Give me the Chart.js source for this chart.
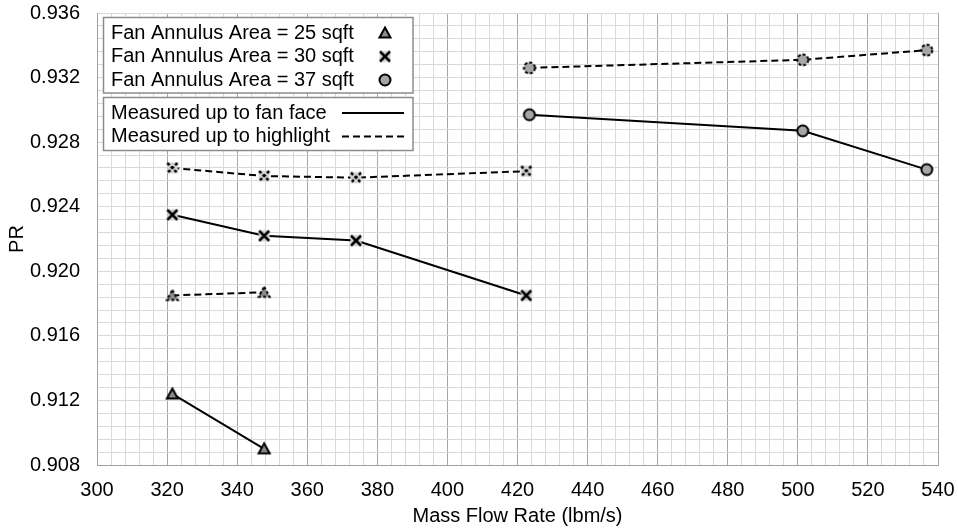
<!DOCTYPE html>
<html>
<head>
<meta charset="utf-8">
<title>PR vs Mass Flow Rate</title>
<script src="https://cdn.jsdelivr.net/npm/chart.js@4.4.0/dist/chart.umd.min.js"></script>
<style>
  html, body { margin: 0; padding: 0; background: #fff; }
  #wrap { width: 958px; height: 531px; }
</style>
</head>
<body>
<div id="wrap"><canvas id="prChart"></canvas></div>
<script>
// mass flow rate (lbm/s) for each fan annulus area
const flow25 = [321.5, 347.7];
const flow30 = [321.5, 347.7, 373.9, 422.5];
const flow37 = [423.4, 501.4, 536.8];

// PR measured up to the fan face
const face25 = [0.9124, 0.9090];
const face30 = [0.9235, 0.9222, 0.9219, 0.9185];
const face37 = [0.9297, 0.9287, 0.9263];

// PR measured up to the highlight
const high25 = [0.9185, 0.9187];
const high30 = [0.9264, 0.9259, 0.9258, 0.9262];
const high37 = [0.9326, 0.9331, 0.9337];

const areaLabels = ['Fan Annulus Area = 25 sqft', 'Fan Annulus Area = 30 sqft', 'Fan Annulus Area = 37 sqft'];
const lineLabels = ['Measured up to fan face', 'Measured up to highlight'];

// axis ranges / grid spacing
const xMin = 300, xMax = 540, xMinor = 4, xMajor = 20;
const yMin = 0.908, yMax = 0.936, yMinor = 0.0008, yMajor = 0.004;

const FONT = '"Liberation Sans", Arial, sans-serif';
Chart.defaults.font.family = FONT;
Chart.defaults.font.size = 20;
Chart.defaults.color = '#000';

// little canvases used as point styles (and in the legend)
function makeMarker(shape, dashed) {
  const c = document.createElement('canvas');
  c.width = 18; c.height = 18;
  const g = c.getContext('2d');
  g.translate(9, 9);
  g.strokeStyle = '#000';
  g.lineWidth = 2;
  if (dashed) g.setLineDash([3, 2]);
  if (shape === 'circle') {
    g.fillStyle = '#a6a6a6';
    g.beginPath(); g.arc(0, 0, 5.5, 0, Math.PI * 2); g.fill(); g.stroke();
  } else if (shape === 'triangle') {
    g.fillStyle = '#8c8c8c';
    g.beginPath(); g.moveTo(0, -5.5); g.lineTo(5.5, 4.5); g.lineTo(-5.5, 4.5); g.closePath();
    g.fill(); g.stroke();
  } else {
    g.fillStyle = '#d4d4d4';
    g.fillRect(-5.5, -5.5, 11, 11);
    g.lineWidth = 2.5;
    g.beginPath(); g.moveTo(-5, -5); g.lineTo(5, 5); g.moveTo(5, -5); g.lineTo(-5, 5); g.stroke();
  }
  return c;
}

const shapes = ['triangle', 'cross', 'circle'];
const solidMarkers = shapes.map(s => makeMarker(s, false));
const dashedMarkers = shapes.map(s => makeMarker(s, true));

function series(label, xs, ys, idx, dashed) {
  return {
    label: label,
    data: xs.map((x, i) => ({ x: x, y: ys[i] })),
    showLine: true,
    borderColor: '#000',
    backgroundColor: '#000',
    borderWidth: 2,
    borderDash: dashed ? [7, 4] : [],
    pointStyle: dashed ? dashedMarkers[idx] : solidMarkers[idx],
    pointRadius: 6,
    pointHoverRadius: 6,
    tension: 0,
    fill: false
  };
}

function stepTicks(min, max, step) {
  const out = [];
  const n = Math.round((max - min) / step);
  for (let i = 0; i <= n; i++) out.push({ value: +(min + i * step).toFixed(6) });
  return out;
}

function isMultiple(v, step) {
  const k = v / step;
  return Math.abs(k - Math.round(k)) < 1e-6;
}

// two framed legend boxes inside the plot area
const legendBoxes = {
  id: 'legendBoxes',
  afterDraw(chart) {
    const ctx = chart.ctx;
    ctx.save();
    ctx.font = '20px ' + FONT;
    ctx.textBaseline = 'middle';
    ctx.lineWidth = 1.5;

    function box(x, y, w, h) {
      ctx.fillStyle = '#fff';
      ctx.fillRect(x, y, w, h);
      ctx.strokeStyle = '#8c8c8c';
      ctx.setLineDash([]);
      ctx.strokeRect(x, y, w, h);
    }

    box(103.5, 17.5, 309.5, 75.5);
    areaLabels.forEach((t, i) => {
      const y = 33 + i * 23.5;
      ctx.fillStyle = '#000';
      ctx.fillText(t, 111, y);
      ctx.drawImage(solidMarkers[i], 385 - 9, y - 9);
    });

    box(103.5, 97.5, 309.5, 53);
    lineLabels.forEach((t, i) => {
      const y = 113 + i * 23.5;
      ctx.fillStyle = '#000';
      ctx.fillText(t, 111, y);
      ctx.strokeStyle = '#000';
      ctx.lineWidth = 2;
      ctx.setLineDash(i === 1 ? [7, 4] : []);
      ctx.beginPath(); ctx.moveTo(342, y); ctx.lineTo(404, y); ctx.stroke();
      ctx.lineWidth = 1.5;
    });
    ctx.restore();
  }
};

new Chart(document.getElementById('prChart'), {
  type: 'scatter',
  data: {
    datasets: [
      series(areaLabels[0] + ' (fan face)', flow25, face25, 0, false),
      series(areaLabels[0] + ' (highlight)', flow25, high25, 0, true),
      series(areaLabels[1] + ' (fan face)', flow30, face30, 1, false),
      series(areaLabels[1] + ' (highlight)', flow30, high30, 1, true),
      series(areaLabels[2] + ' (fan face)', flow37, face37, 2, false),
      series(areaLabels[2] + ' (highlight)', flow37, high37, 2, true)
    ]
  },
  options: {
    responsive: true,
    maintainAspectRatio: false,
    animation: false,
    layout: { padding: { left: 0, right: 20, top: 13, bottom: 0 } },
    plugins: {
      legend: { display: false },
      tooltip: { enabled: false }
    },
    scales: {
      x: {
        type: 'linear',
        min: xMin,
        max: xMax,
        afterBuildTicks: s => { s.ticks = stepTicks(xMin, xMax, xMinor); },
        // fixed axis height, no extra edge padding from the end labels
        afterFit: s => { s.height = 66; s.paddingLeft = 0; s.paddingRight = 0; },
        ticks: {
          autoSkip: false,
          maxRotation: 0,
          padding: 13,
          callback: v => (isMultiple(v, xMajor) ? String(Math.round(v)) : '')
        },
        grid: {
          drawTicks: false,
          lineWidth: 1,
          color: c => (isMultiple(c.tick.value, xMajor) ? '#a6a6a6' : '#d9d9d9')
        },
        border: { color: '#a0a0a0', width: 1 },
        title: {
          display: true,
          text: 'Mass Flow Rate (lbm/s)',
          padding: { top: 0, bottom: 3 }
        }
      },
      y: {
        type: 'linear',
        min: yMin,
        max: yMax,
        afterBuildTicks: s => { s.ticks = stepTicks(yMin, yMax, yMinor); },
        afterFit: s => { s.width = 97; s.paddingTop = 0; s.paddingBottom = 0; },
        ticks: {
          autoSkip: false,
          padding: 17,
          callback: v => (isMultiple(v, yMajor) ? v.toFixed(3) : '')
        },
        grid: {
          drawTicks: false,
          lineWidth: 1,
          color: '#d9d9d9'
        },
        border: { color: '#a0a0a0', width: 1 },
        title: {
          display: true,
          text: 'PR',
          padding: { top: 5, bottom: 0 }
        }
      }
    }
  },
  plugins: [legendBoxes]
});
</script>
</body>
</html>
